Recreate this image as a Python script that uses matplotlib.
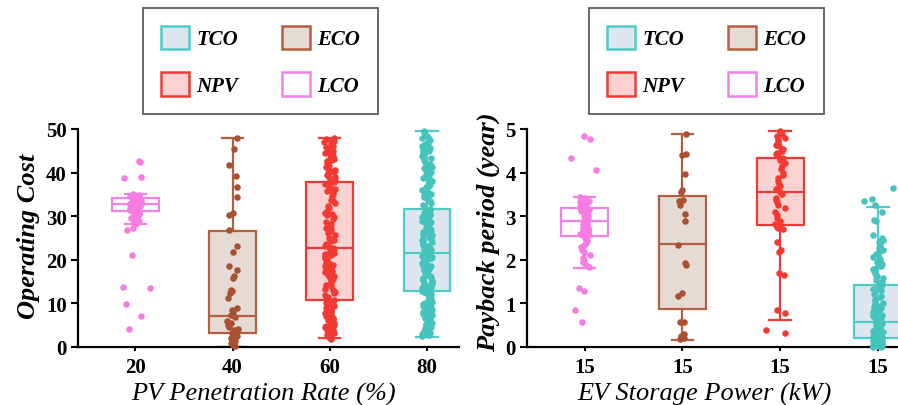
import matplotlib.pyplot as plt
from matplotlib.patches import Patch
import numpy as np

plt.rcParams["font.family"] = "Liberation Serif"

# ---------------- data ----------------
groups = ["LCO", "ECO", "NPV", "TCO"]

pv_ticks = ["20", "40", "60", "80"]
ev_ticks = ["15", "15", "15", "15"]

# box stats: whisker low, q1, median, q3, whisker high
pv_box = {
    "LCO": [28.3, 31.3, 32.7, 34.1, 35.0],
    "ECO": [0.0, 3.3, 7.0, 26.6, 48.0],
    "NPV": [2.0, 10.8, 22.8, 37.8, 48.0],
    "TCO": [2.4, 12.8, 21.6, 31.6, 49.5],
}
ev_box = {
    "LCO": [1.82, 2.55, 2.89, 3.18, 3.45],
    "ECO": [0.16, 0.87, 2.36, 3.47, 4.88],
    "NPV": [0.61, 2.79, 3.55, 4.33, 4.96],
    "TCO": [0.0, 0.2, 0.58, 1.42, 3.2],
}

lco_pv = [42.7, 42.4, 39.1, 38.7, 35.0, 34.8, 34.6, 34.5, 34.3, 34.2, 34.0, 33.9,
          33.8, 33.7, 33.6, 33.5, 33.4, 33.3, 33.2, 33.1, 33.0, 32.9, 32.8, 32.8,
          32.7, 32.6, 32.5, 32.4, 32.3, 32.2, 32.1, 32.0, 31.9, 31.8, 31.7, 31.6,
          31.5, 31.4, 31.3, 31.2, 31.0, 30.8, 30.6, 30.4, 30.2, 30.0, 29.7, 29.4,
          29.1, 28.8, 28.5, 28.3, 27.4, 26.8, 21.0, 13.8, 13.5, 9.9, 7.0, 4.1]
eco_pv = [48.0, 45.5, 41.8, 39.2, 36.6, 34.3, 30.8, 30.3, 26.8, 23.2, 21.8, 18.5,
          17.6, 16.3, 15.9, 13.1, 12.8, 12.5, 11.2, 9.0, 8.5, 8.0, 7.4, 6.8, 6.0,
          5.5, 5.0, 4.6, 4.2, 3.8, 3.3, 2.9, 2.5, 2.1, 1.7, 1.3, 0.9, 0.5, 0.2]
npv_pv = [48.0, 47.8, 47.3, 47.1, 46.6, 46.2, 45.9, 45.3, 45.0, 44.6, 44.1, 43.9,
          43.4, 43.0, 42.7, 42.2, 41.9, 41.3, 41.0, 40.6, 40.3, 39.8, 39.5, 39.1,
          38.9, 38.4, 38.1, 37.9, 37.8, 47.5, 46.9, 44.8, 43.2, 41.6, 40.1,
          37.5, 37.0, 36.7, 36.2, 35.8, 35.1, 34.6, 34.0, 33.7, 33.1, 32.4, 31.9,
          31.3, 30.8, 30.2, 29.9, 29.4, 28.7, 28.2, 27.8, 27.1, 26.6, 26.2, 25.7,
          25.1, 24.8, 24.2, 23.6, 23.1, 22.9, 35.5, 33.4, 30.5, 27.4, 24.5,
          22.7, 22.4, 22.0, 21.6, 21.3, 20.9, 20.5, 20.1, 19.8, 19.3, 19.0, 18.6,
          18.2, 17.8, 17.5, 17.1, 16.6, 16.2, 15.9, 15.5, 15.0, 14.7, 14.3, 13.9,
          13.4, 13.1, 12.7, 12.3, 11.9, 11.5, 11.1, 10.9, 21.1, 18.9, 16.9,
          10.7, 10.4, 10.0, 9.7, 9.4, 9.0, 8.7, 8.3, 8.0, 7.7, 7.4, 7.0, 6.7, 6.4,
          6.1, 5.8, 5.4, 5.1, 4.8, 4.5, 4.2, 3.9, 3.6, 3.3, 3.0, 2.7, 2.4, 2.1,
          1.9, 9.2, 7.2, 5.6, 4.0, 3.1, 2.5]
tco_pv = [49.5, 49.2, 48.8, 48.3, 47.9, 47.4, 46.9, 46.5, 46.0, 45.6, 45.1, 44.7,
          44.2, 43.8, 43.3, 42.9, 42.4, 42.0, 41.5, 41.1, 40.6, 40.2, 39.7, 39.3,
          38.8, 38.4, 37.9, 37.5, 37.0, 36.6, 36.1, 35.7, 35.2, 34.8, 34.3, 33.9,
          33.4, 33.0, 32.5, 32.1, 31.7, 48.1, 44.9, 41.3, 38.1, 35.0,
          31.5, 31.3, 31.0, 30.8, 30.5, 30.2, 30.0, 29.7, 29.5, 29.2, 28.9, 28.7,
          28.4, 28.2, 27.9, 27.6, 27.4, 27.1, 26.9, 26.6, 26.3, 26.1, 25.8, 25.6,
          25.3, 25.0, 24.8, 24.5, 24.3, 24.0, 23.7, 23.5, 23.2, 23.0, 22.7, 22.4,
          22.2, 21.9, 21.7, 29.8, 27.0, 24.6, 22.9,
          21.5, 21.3, 21.1, 20.9, 20.7, 20.5, 20.3, 20.1, 19.9, 19.7, 19.5, 19.3,
          19.1, 18.9, 18.7, 18.5, 18.3, 18.1, 17.9, 17.7, 17.5, 17.3, 17.0, 16.8,
          16.6, 16.4, 16.2, 16.0, 15.8, 15.6, 15.4, 15.2, 14.9, 14.7, 14.5, 14.3,
          14.1, 13.9, 13.7, 13.5, 13.3, 13.1, 12.9,
          12.7, 12.4, 12.2, 11.9, 11.7, 11.4, 11.2, 10.9, 10.7, 10.4, 10.1, 9.9,
          9.6, 9.4, 9.1, 8.9, 8.6, 8.4, 8.1, 7.8, 7.6, 7.3, 7.1, 6.8, 6.6, 6.3,
          6.0, 5.8, 5.5, 5.3, 5.0, 4.8, 4.5, 4.3, 4.0, 3.7, 3.5, 3.2, 3.0, 2.7,
          2.5, 10.3, 6.9]

lco_ev = [4.85, 4.78, 4.33, 4.05, 3.45, 3.42, 3.38, 3.35, 3.32, 3.3, 3.27, 3.24,
          3.22, 3.2, 3.18, 3.16, 3.14, 3.12, 3.1, 3.08, 3.06, 3.04, 3.02, 3.0,
          2.98, 2.96, 2.94, 2.92, 2.9, 2.88, 2.86, 2.84, 2.82, 2.8, 2.78, 2.76,
          2.74, 2.72, 2.7, 2.68, 2.66, 2.64, 2.62, 2.6, 2.58, 2.56, 2.54, 2.5,
          2.46, 2.42, 2.38, 2.34, 2.3, 2.26, 2.22, 2.18, 2.12, 2.05, 2.0, 1.95,
          1.88, 1.84, 1.35, 1.28, 0.85, 0.58]
eco_ev = [4.88, 4.42, 4.4, 3.97, 3.6, 3.55, 3.38, 3.35, 3.25, 3.05, 2.9, 2.35,
          1.92, 1.88, 1.25, 1.18, 0.58, 0.57, 0.3, 0.25, 0.2, 0.18]
npv_ev = [4.96, 4.92, 4.88, 4.85, 4.8, 4.76, 4.72, 4.68, 4.64, 4.6, 4.55, 4.5,
          4.46, 4.42, 4.38, 4.33, 4.28, 4.22, 4.15, 4.08, 4.0, 3.95, 3.88, 3.8,
          3.75, 3.7, 3.62, 3.55, 3.5, 3.42, 3.38, 3.32, 3.25, 3.18, 3.1, 3.02,
          2.95, 2.88, 2.82, 2.78, 2.75, 2.72, 2.7, 2.4, 2.22, 2.18, 1.7, 1.65,
          0.85, 0.78, 0.4, 0.33]
tco_ev = [3.65, 3.4, 3.35, 3.25, 3.1, 2.92, 2.88, 2.58, 2.43,
          2.5, 2.45, 2.4, 2.35, 2.3, 2.26, 2.22, 2.18, 2.14, 2.1, 2.06, 2.02,
          1.98, 1.94, 1.9, 1.86, 1.82, 1.78, 1.74, 1.7, 1.66, 1.62, 1.58, 1.54,
          1.5, 1.46, 1.42, 1.38, 1.34, 1.3, 1.26, 1.22, 1.18, 1.14, 1.1, 1.06,
          1.02, 0.98, 0.95, 0.92, 0.89, 0.86, 0.83, 0.8, 0.77, 0.74, 0.71, 0.68,
          0.65, 0.62, 0.6, 0.58, 0.56, 0.54, 0.52, 0.5, 0.48, 0.46, 0.44, 0.42,
          0.4, 0.38, 0.36, 0.34, 0.32, 0.3, 0.28, 0.26, 0.24, 0.22, 0.2, 0.19,
          0.18, 0.17, 0.16, 0.15, 0.14, 0.13, 0.12, 0.11, 0.1, 0.09, 0.08, 0.07,
          0.06, 0.05, 0.04, 0.03, 0.02, 0.01, 0.0, 0.05, 0.1, 0.15, 0.25, 0.35,
          0.45, 0.55, 0.02, 0.08, 0.12, 0.3, 0.4]

pv_points = {"LCO": lco_pv, "ECO": eco_pv, "NPV": npv_pv, "TCO": tco_pv}
ev_points = {"LCO": lco_ev, "ECO": eco_ev, "NPV": npv_ev, "TCO": tco_ev}

# ---------------- style ----------------
edge = {"TCO": "#4ecdc8", "ECO": "#b26040", "NPV": "#ee3b35", "LCO": "#f282e6"}
face = {"TCO": "#dde6ee", "ECO": "#e6dad4", "NPV": "#fad2d2", "LCO": "#ffffff"}
dots = {"TCO": "#45c3bd", "ECO": "#a8502f", "NPV": "#f23a33", "LCO": "#f47ce2"}

rng = np.random.default_rng(7)


def draw_panel(ax, boxes, points, ticks, ymax, ylabel, xlabel):
    for i, g in enumerate(groups):
        lo, q1, med, q3, hi = boxes[g]
        stats = [dict(whislo=lo, q1=q1, med=med, q3=q3, whishi=hi, fliers=[])]
        ax.bxp(stats, positions=[i], widths=0.48, capwidths=0.22,
               patch_artist=True, showfliers=False, manage_ticks=False,
               boxprops=dict(facecolor=face[g], edgecolor=edge[g], linewidth=1.6),
               medianprops=dict(color=edge[g], linewidth=1.6),
               whiskerprops=dict(color=edge[g], linewidth=1.6),
               capprops=dict(color=edge[g], linewidth=1.6), zorder=2)
        y = np.array(points[g])
        outside = (y < lo) | (y > hi)
        jit = rng.uniform(-0.055, 0.055, len(y))
        jit[outside] = rng.uniform(-0.16, 0.16, outside.sum())
        ax.scatter(i + jit, y, s=22, color=dots[g], linewidths=0, zorder=3,
                   clip_on=False)

    ax.set_xticks(range(4))
    ax.set_xticklabels(ticks, fontsize=15, fontweight="bold")
    ax.set_ylim(0, ymax)
    ax.set_yticks(np.linspace(0, ymax, 6))
    ax.set_yticklabels([f"{v:g}" for v in np.linspace(0, ymax, 6)],
                       fontsize=15, fontweight="bold")
    ax.tick_params(axis="y", length=5, width=1.5, pad=3)
    ax.tick_params(axis="x", length=3, width=1.5, pad=4)
    for s in ["top", "right"]:
        ax.spines[s].set_visible(False)
    for s in ["left", "bottom"]:
        ax.spines[s].set_linewidth(1.6)
    ax.set_ylabel(ylabel, fontsize=19, fontweight="bold", style="italic")
    ax.set_xlabel(xlabel, fontsize=19, style="italic")


fig = plt.figure(figsize=(8.98, 4.06), dpi=100)
ax1 = fig.add_axes([78 / 898, 58 / 406, 381 / 898, 218 / 406])
ax2 = fig.add_axes([527 / 898, 58 / 406, 390 / 898, 218 / 406])

draw_panel(ax1, pv_box, pv_points, pv_ticks, 50, "Operating Cost",
           "PV Penetration Rate (%)")
draw_panel(ax2, ev_box, ev_points, ev_ticks, 5, "Payback period (year)",
           "EV Storage Power (kW)")
ax1.set_xlim(-0.59, 3.33)
ax2.set_xlim(-0.59, 3.4)
ax1.yaxis.set_label_coords(-0.1, 0.51)
ax1.xaxis.set_label_coords(0.486, -0.158)
ax2.yaxis.set_label_coords(-0.068, 0.53)
ax2.xaxis.set_label_coords(0.454, -0.158)

order = ["TCO", "NPV", "ECO", "LCO"]
for ax, x0 in [(ax1, 143), (ax2, 589)]:
    handles = [Patch(facecolor=face[g], edgecolor=edge[g], linewidth=1.8, label=g)
               for g in order]
    leg = ax.legend(handles=handles, ncol=2, loc="upper left",
                    bbox_to_anchor=(x0 / 898, 1 - 9 / 406),
                    bbox_transform=fig.transFigure, frameon=True, fancybox=False,
                    prop=dict(size=15, weight="bold", style="italic"),
                    handlelength=1.35, handleheight=1.35, handletextpad=0.35,
                    columnspacing=2.1, labelspacing=1.1, borderpad=0.85,
                    borderaxespad=0)
    leg.get_frame().set_edgecolor("#333333")
    leg.get_frame().set_linewidth(1.3)

fig.savefig("out.png", dpi=100)
